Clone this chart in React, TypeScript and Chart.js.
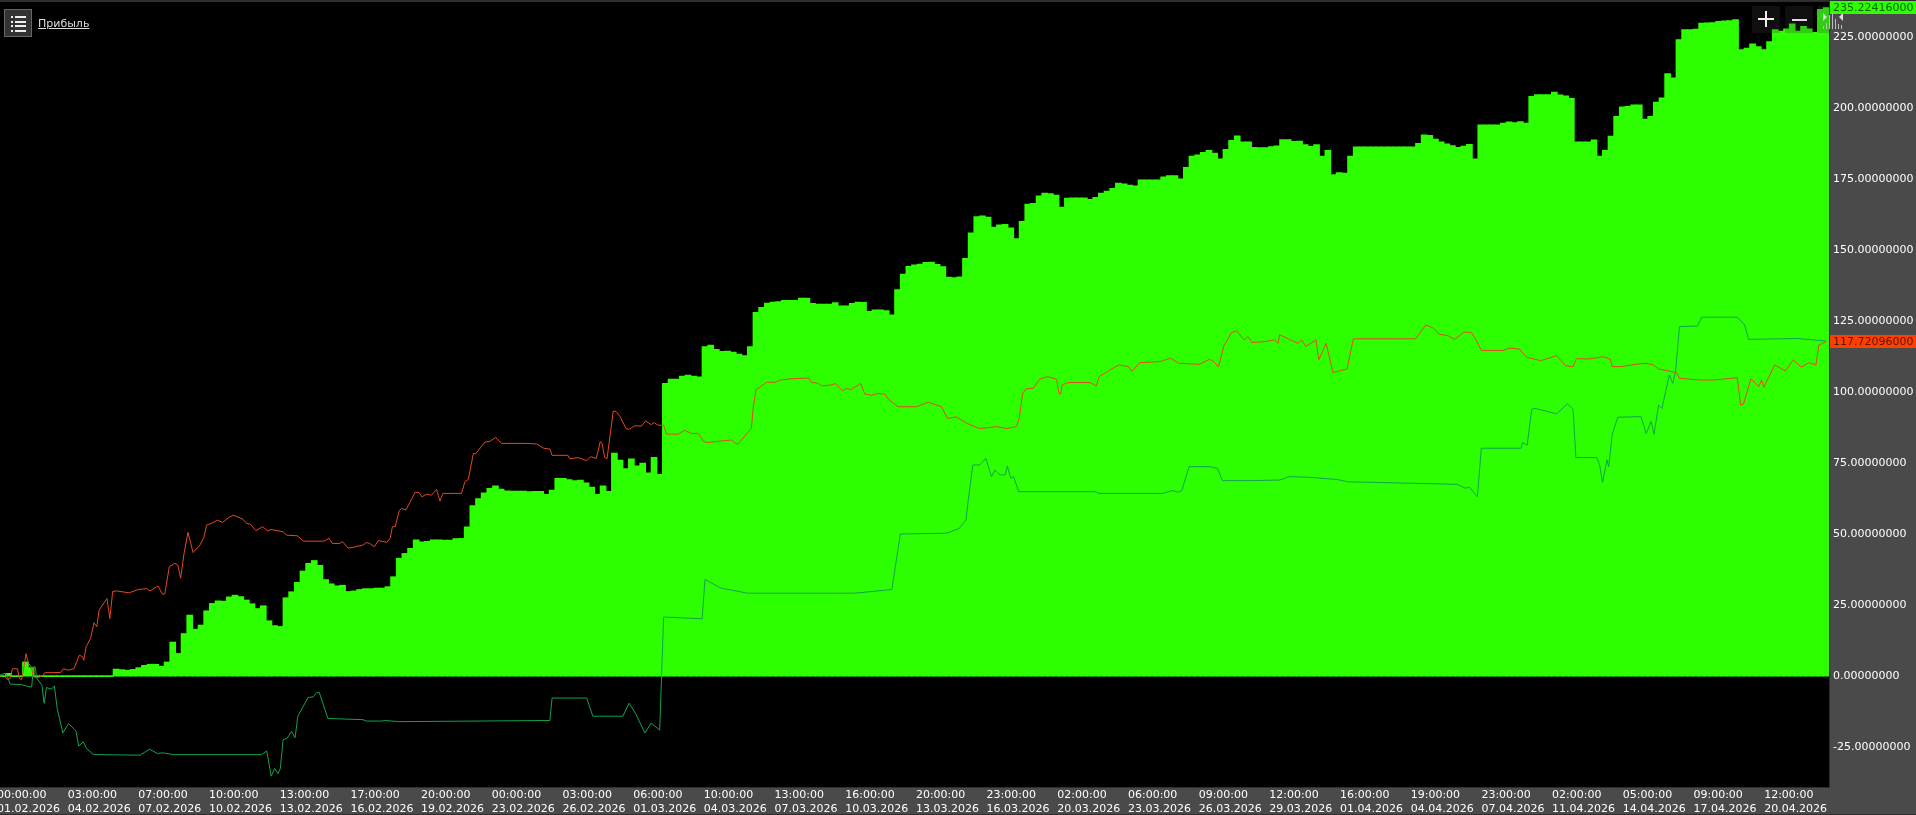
import React, { useEffect, useRef } from "react";
import { Chart, registerables } from "chart.js";

Chart.register(...registerables);

const seriesName = "Прибыль";

const timeLabels = ["00:00:00","03:00:00","07:00:00","10:00:00","13:00:00","17:00:00","20:00:00","00:00:00","03:00:00","06:00:00","10:00:00","13:00:00","16:00:00","20:00:00","23:00:00","02:00:00","06:00:00","09:00:00","12:00:00","16:00:00","19:00:00","23:00:00","02:00:00","05:00:00","09:00:00","12:00:00"];
const dateLabels = ["01.02.2026","04.02.2026","07.02.2026","10.02.2026","13.02.2026","16.02.2026","19.02.2026","23.02.2026","26.02.2026","01.03.2026","04.03.2026","07.03.2026","10.03.2026","13.03.2026","16.03.2026","20.03.2026","23.03.2026","26.03.2026","29.03.2026","01.04.2026","04.04.2026","07.04.2026","11.04.2026","14.04.2026","17.04.2026","20.04.2026"];
const yTicks = [-25, 0, 25, 50, 75, 100, 125, 150, 175, 200, 225];

const profitBars = [
  0,1,0,0,5,3,0,0,0,0,
  0,0,0,0,0,0,0,0,0,0,
  2.5,2.3,2.1,2.4,3,3.8,4.2,4.2,3.5,5,
  12,8,15,21.5,16.5,18,23,25.6,26.5,26.4,
  27.9,28.5,28,26.8,25.5,23.8,24.8,19.5,17.8,17.5,
  27.6,29.7,33,37,39.7,40.7,39,34,32.5,31.8,
  32,29.8,30,30.5,30.8,30.8,31,31,31.5,35,
  41.5,43.2,45,48,47.3,47.4,48,48,47.9,47.9,
  48.4,48.5,52.5,60,62.5,64.5,66.1,67,65.8,65.2,
  65.1,65.1,65.1,64.9,65,65,64,65.5,69.6,69.6,
  69.2,68.8,69,68,66.5,64,67,65,78.5,76,
  73,76.5,74,75,71.5,77,71,103,104.5,104.5,
  105.6,105.9,105.6,105.3,116,116.5,115,114.3,114.4,114,
  113.3,112.8,116,128,129.8,131.3,131.6,131.8,132.2,132.2,
  132.2,133,133,131.2,130.9,130.9,130.9,131.4,130.3,130.3,
  131.2,131.6,131.5,128.4,128.9,128.9,128.6,127.1,136,141.5,
  144.2,144.7,145,145.6,145.7,144.9,144.1,140.4,140.2,140.5,
  147,156,161.7,162,161.5,158,158.8,159,157.7,154,
  160,166.1,166.4,169,170,169.8,169.3,165,168.2,168.3,
  168.3,168.3,167.8,168.5,170,170.7,171.6,173.5,173.2,172.8,
  172.5,174.6,174.6,174.6,174.6,175.7,176.1,176.1,175,179,
  183,183.4,184.3,185,184,182,185.4,188.5,190.1,188,
  188,186.1,186,186,186.3,186.6,188.8,188.8,188.2,188.3,
  187,186.4,187,183,185,176.5,177.2,177,183,186.2,
  186.2,186.2,186.2,186.2,186.2,186.2,186.2,186.2,186.2,186.2,
  187.5,190.5,190.3,189,188,187.3,186.7,186.1,186.5,187.1,
  182,194,194,194,194,194.6,195,194.8,195.1,194.6,
  204,204.6,204.6,204.6,205.5,204.5,204.2,203.3,188,188,
  188,188.7,183,185,190,197,200.3,200.5,201,201,
  196,197,202,203.5,212,210.5,224,227.5,227.5,227.7,
  229.8,229.9,230,230.4,230.6,230.7,231,220.5,221,222.5,
  221.5,220.5,223.3,227.5,227,227.8,229.5,227,228.6,227.8,
  226.5,234.6,235.22416,
];

const redLine = [
  [0,0],[0.7,0.4],[1.3,-1.2],[1.8,-0.8],[2.2,2.6],[3.1,2.6],[3.4,-0.8],[3.8,-1.2],[4.1,1.5],[4.6,7.9],[5,4.5],[5.5,3.5],[5.9,-0.2],[6.5,-0.5],[7.5,0],[7.9,1.2],
  [10.7,1.3],[11.2,2.6],[12.1,2.1],[13.1,2.7],[14,7.4],[14.6,6.8],[14.8,5.6],[15.2,10.3],[16,13.3],[16.6,18.8],[17.1,17.4],[17.5,23.2],[18.7,26.8],[18.9,27.3],[19.4,20.3],[19.9,29.8],
  [20.6,30],[22.8,29.3],[24.4,30.5],[25.9,30.8],[26.5,30],[27.9,31.7],[28.7,28.8],[29.1,28.9],[29.9,38.5],[30.9,39.7],[31.4,39.1],[31.9,34.4],[32.5,43.2],[33.2,50.6],[34.1,43.5],[35.3,46.1],
  [36,48.8],[36.5,53.2],[37.4,53.8],[38.4,54.9],[39.3,54.1],[40.6,56.1],[41.3,56.6],[42.9,55.2],[43.5,53.8],[44.2,53.5],[45.2,51.2],[46.4,52.6],[47.2,51.1],[47.9,51.6],[50,50.8],[50.6,49.6],
  [52.5,49.4],[53.6,47.5],[57.2,47.5],[58.1,48.5],[58.7,46.7],[60,46.7],[60.5,47.3],[61.5,45],[64.1,46.1],[64.7,47],[65.3,46.7],[66.1,45.5],[66.8,47.7],[68.3,47.1],[68.9,48.5],[69.3,52.6],
  [69.8,52.6],[70.5,58.2],[70.9,59],[71.7,58.5],[73.3,64.7],[74,64.6],[74.5,63.1],[75.3,64],[76.2,63.7],[77.1,65.7],[77.7,61.6],[78.2,64.3],[81.5,64.3],[82.1,68.4],[82.7,69.2],[83.6,78.4],
  [84,78.2],[85.6,82.3],[86.6,82.7],[87.5,84],[88.6,81.9],[92.7,81.9],[94.8,81.7],[96,80.2],[97.1,79.9],[97.5,77.7],[100.3,77.7],[100.6,76.5],[102.1,76.9],[103.6,75.8],[104.3,77.2],[105.3,76.6],
  [106,82.5],[106.3,82],[106.8,76.9],[107.2,76.5],[108.3,93.3],[108.8,93.1],[109.5,91.3],[110.6,87],[111.2,86.9],[112.1,88.1],[113.3,88],[114,89.8],[115,88.5],[115.5,89.2],[116.2,88.3],[117.2,88.3],
  [117.7,85.2],[119.7,85.1],[120.9,86.5],[122.1,85.4],[123.3,85.4],[124.3,82.5],[125,82.2],[127.1,82.7],[129.2,83.1],[129.7,82.2],[130.3,81.6],[132.7,87.2],[133,94.2],[133.5,100.7],[135.4,103.4],[136.9,103.4],
  [137.8,104.2],[139.5,104.6],[142.8,104.9],[143.3,103.4],[144.5,103],[145.1,102.1],[146.9,102.5],[147.5,103],[148.8,100.4],[149.5,101.3],[150.2,100.7],[152,103],[152.7,99.3],[153.9,98.8],[155.1,99.5],[156.3,99.2],
  [156.9,97.4],[158.6,94.8],[161.9,94.8],[163.9,96.4],[166.3,94.8],[167.3,90.7],[168.9,91.2],[170.7,89],[173,87.1],[176,87.8],[177.8,87.1],[179.5,87.8],[180,90.7],[180.6,99.5],[181.2,101.1],[182.5,101.3],
  [183.6,104.5],[185,105.4],[186.6,104.5],[187,99.5],[187.3,99.2],[187.6,102.5],[188.6,103.3],[192.5,103.3],[193.6,102.1],[194.1,105.4],[195.6,107.2],[197,108.9],[197.7,109.5],[199.3,108.9],[199.9,107.2],[201.3,110.3],
  [204.9,110.7],[206.7,111.9],[208.2,110.1],[211.8,109.7],[213.6,111.5],[214.3,110.7],[215.2,108.9],[216.1,116],[217.5,120.9],[218.4,121.5],[219.7,118.3],[220.4,119.5],[221.1,117.4],[223.3,117.7],[225.1,118.3],[225.7,117.1],
  [226,120.1],[229.2,117.1],[229.9,118.3],[230.6,116],[232.4,118.3],[232.9,111.3],[234.2,117.1],[235.4,106.8],[237.9,108.1],[239,118.7],[250,118.7],[251.8,123.6],[253.2,122.4],[254.1,120.3],[255.7,119.8],[256.9,118.5],
  [258.5,121],[259.8,121],[260.7,118.3],[261.6,114.6],[265.5,114.6],[266.4,115.4],[268.3,115.1],[269.6,112.2],[272.1,111],[274.9,112.8],[276.5,109.2],[277.8,108.9],[278.4,111.7],[280.6,111.6],[283.1,112.4],[284.4,111.5],
  [284.7,108.9],[286.3,108.9],[288.8,109.7],[290.7,110.1],[292,109.5],[292.9,108.1],[296.1,106.8],[296.6,104.8],[300.2,104.2],[302.7,104.2],[306.8,105],[307.4,95.4],[307.9,95.7],[309.2,104.6],[310.6,101.9],[311.1,104.2],
  [311.5,101.6],[313.4,109.5],[315.3,107.4],[316.7,111.3],[318.1,108.7],[319.4,110.3],[320.7,109.5],[321.2,116.5],[321.9,117.1],[322.5,117.72096],
];

const greenLine = [
  [0,0.3],[0.7,0.9],[1.1,0.9],[1.8,-2.8],[3.6,-2.9],[5.3,-3.8],[5.6,-3.8],[5.9,3.3],[6.2,3.3],[6.5,-0.8],[7.4,-3.2],[7.8,-9.6],[8.2,-4],[9.1,-4.6],[9.6,-3.4],[10.1,-11.4],
  [11.1,-20],[12.1,-16.7],[13.4,-19.2],[13.9,-24.6],[14.7,-23.1],[15.3,-25.5],[16.5,-27.6],[24.7,-27.8],[26.4,-25.7],[27.8,-27.2],[28.8,-27],[30.6,-27.6],[46.2,-27.6],[47.1,-26.3],[47.9,-35.2],[48.5,-32.5],
  [49.1,-34.3],[49.5,-32.5],[50,-22.3],[50.7,-21.9],[51.5,-19.4],[52.1,-21.7],[52.6,-14.1],[54.4,-7.5],[55.3,-7.3],[55.9,-5.8],[56.4,-5.8],[57.9,-14.9],[64.1,-15.3],[64.7,-15.8],[67.4,-15.8],[67.9,-15.6],
  [70.6,-16],[97.1,-15.6],[97.5,-7.7],[103.6,-7.7],[104.7,-14.1],[110,-14.1],[111.1,-9.5],[112.2,-13],[113.9,-20],[115,-16.5],[116.5,-19],[117,10],[117.2,20.8],[124,20.2],[124.5,34],[127.3,31],
  [132,29.2],[151,29.2],[157.5,30.5],[159,50],[167.2,50.3],[169.4,52],[170.6,55],[171,62],[171.8,74.3],[173,74.3],[174.1,76.6],[175.1,70.2],[175.7,72.5],[176.6,70.8],[177.5,70.8],[177.9,73.9],
  [178.5,69.6],[179,70.2],[179.9,64.9],[193.4,64.9],[194.1,64.3],[205.3,64.3],[207.1,65.3],[208,64.7],[208.7,65.3],[210,73.7],[213.6,73.7],[215,73.1],[215.9,68.8],[221.1,68.8],[226,69],[227.6,70.2],
  [231.1,70],[236.1,69.2],[238,68.4],[257.3,67.5],[258.8,66.1],[259.5,66.5],[260.9,63.1],[261.6,80.2],[268.6,80.2],[268.9,82.2],[269.7,81.3],[270.5,93.9],[271.1,94.2],[274.9,92.3],[276.8,95.8],[277.8,93.9],
  [278.3,76.9],[282,76.9],[282.5,74.3],[283,68.2],[283.8,76.1],[284.1,73.7],[284.7,84.9],[285.7,91.1],[289.8,91.3],[290.7,85.4],[291.6,89.6],[292.1,85.1],[292.9,95.4],[293.5,94.2],[294.8,106],[295.4,103],
  [295.9,107.2],[296.6,123],[299.8,123.2],[300.5,126.3],[306.8,126.3],[308.1,123.6],[308.8,118.5],[317.5,118.8],[322.5,117.9],
];

const axisGrey = "#4a4a4a";
const barGreen = "#2dff00";
const redColor = "#e2491f";
const lineGreen = "#12a34e";
const labelColor = "#ffffff";
const firstTick = -0.53;
const tickStep = 12.483;

const frame = {
  id: "frame",
  beforeDraw(chart: any) {
    const { ctx, chartArea: a, width, height } = chart;
    ctx.save();
    ctx.fillStyle = axisGrey;
    ctx.fillRect(0, 0, width, height);
    ctx.fillStyle = "#000";
    ctx.fillRect(a.left, a.top, a.right - a.left, a.bottom - a.top);
    ctx.fillStyle = "#2e2e2e";
    ctx.fillRect(0, 0, width, a.top);
    ctx.fillRect(a.right, a.top, 1, a.bottom - a.top);
    ctx.fillRect(0, a.bottom, a.right + 1, 1);
    ctx.fillRect(0, height - 1, width, 1);
    ctx.restore();
  },
  afterDraw(chart: any) {
    const { ctx, chartArea: a, scales, width } = chart;
    const tags = [
      { v: profitBars[profitBars.length - 1], bg: barGreen, fg: "#0d5e00" },
      { v: redLine[redLine.length - 1][1], bg: "#ff3f00", fg: "#571500" },
    ];
    ctx.save();
    ctx.font = "11px 'DejaVu Sans'";
    ctx.textBaseline = "middle";
    ctx.textAlign = "left";
    for (const t of tags) {
      const y = scales.y.getPixelForValue(t.v);
      ctx.fillStyle = t.bg;
      ctx.fillRect(a.right + 1, Math.round(y) - 7, width - a.right - 1, 13);
      ctx.fillStyle = t.fg;
      ctx.fillText(t.v.toFixed(8), a.right + 4, Math.round(y));
    }
    ctx.restore();
  },
};

const box = (left: number, w: number): React.CSSProperties => ({
  position: "absolute",
  left,
  top: 6,
  width: w,
  height: 27,
  background: "rgba(60,60,60,0.25)",
});

const noPadding = (s: any) => {
  s.paddingLeft = 0;
  s.paddingRight = 0;
  s.paddingTop = 0;
  s.paddingBottom = 0;
};

export default function App() {
  const ref = useRef<HTMLCanvasElement>(null);
  useEffect(() => {
    const chart = new Chart(ref.current as HTMLCanvasElement, {
      type: "bar",
      plugins: [frame],
      data: {
        datasets: [
          {
            type: "line",
            label: "red",
            data: redLine.map(([x, y]) => ({ x, y })),
            borderColor: redColor,
            borderWidth: 1,
            pointRadius: 0,
            tension: 0,
            order: 1,
          },
          {
            type: "line",
            label: "green",
            data: greenLine.map(([x, y]) => ({ x, y })),
            borderColor: lineGreen,
            borderWidth: 1,
            pointRadius: 0,
            tension: 0,
            order: 2,
          },
          {
            type: "bar",
            label: seriesName,
            data: profitBars.map((y, i) => ({ x: i + 0.5, y })),
            backgroundColor: barGreen,
            borderWidth: 0,
            barThickness: 6,
            minBarLength: 1,
            order: 3,
          },
        ],
      } as any,
      options: {
        responsive: false,
        animation: false,
        parsing: { xAxisKey: "x", yAxisKey: "y" },
        layout: { padding: { top: 2, left: 0, right: 0, bottom: 0 } },
        plugins: { legend: { display: false }, tooltip: { enabled: false } },
        scales: {
          x: {
            type: "linear",
            offset: false,
            min: 0,
            max: profitBars.length,
            grid: { display: false, drawTicks: false, offset: false },
            border: { display: false },
            afterBuildTicks: (s: any) => {
              s.ticks = timeLabels.map((_, i) => ({ value: firstTick + i * tickStep }));
            },
            afterFit: (s: any) => {
              s.height = 28;
              noPadding(s);
            },
            ticks: {
              autoSkip: false,
              maxRotation: 0,
              minRotation: 0,
              align: "start",
              padding: 1,
              color: labelColor,
              font: { family: "'DejaVu Sans'", size: 11, lineHeight: 1.27 },
              callback: (_: any, i: number) => [timeLabels[i], dateLabels[i]],
            },
          },
          y: {
            position: "right",
            min: -39,
            max: 237.2,
            grid: { display: false, drawTicks: false },
            border: { display: false },
            afterBuildTicks: (s: any) => {
              s.ticks = yTicks.map((value) => ({ value }));
            },
            afterFit: (s: any) => {
              s.width = 87;
              noPadding(s);
            },
            ticks: {
              autoSkip: false,
              padding: 4,
              color: labelColor,
              font: { family: "'DejaVu Sans'", size: 11 },
              callback: (v: any) => Number(v).toFixed(8),
            },
          },
        },
      } as any,
    });
    return () => chart.destroy();
  }, []);

  return (
    <div style={{ position: "fixed", left: 0, top: 0, width: 1916, height: 815, overflow: "hidden", background: "#000" }}>
      <canvas ref={ref} width={1916} height={815} style={{ display: "block", width: 1916, height: 815 }} />
      <div style={{ position: "absolute", left: 4, top: 9, width: 26, height: 26, background: "#333", border: "1px solid #666" }}>
        <svg width="26" height="26" style={{ display: "block" }}>
          {[6, 11, 15, 20].map((y) => (
            <g key={y} fill="#eee">
              <rect x="6" y={y} width="2" height="2" />
              <rect x="10" y={y} width="11" height="2" />
            </g>
          ))}
        </svg>
      </div>
      <div style={{ position: "absolute", left: 38, top: 17, color: "#ddd", fontFamily: "'DejaVu Sans'", fontSize: 11, lineHeight: "14px", textDecoration: "underline" }}>
        {seriesName}
      </div>
      <div style={box(1752, 28)}>
        <svg width="28" height="27" style={{ display: "block" }}>
          <rect x="6" y="12" width="16" height="2" fill="#eee" />
          <rect x="13" y="5" width="2" height="16" fill="#eee" />
        </svg>
      </div>
      <div style={box(1785, 28)}>
        <svg width="28" height="27" style={{ display: "block" }}>
          <rect x="7" y="13" width="15" height="2" fill="#ddd" />
        </svg>
      </div>
      <div style={box(1818, 11)} />
      <svg width="22" height="20" style={{ position: "absolute", left: 1822, top: 11 }}>
        <path d="M1 2 L5 6 L1 10 Z M21 2 L17 6 L21 10 Z" fill="#ddd" />
        <g fill="#bbb">
          <rect x="1" y="15" width="1" height="3" />
          <rect x="4" y="12" width="1" height="6" />
          <rect x="7" y="4" width="1" height="14" />
          <rect x="10" y="2" width="1" height="16" />
          <rect x="13" y="8" width="1" height="10" />
          <rect x="16" y="13" width="1" height="5" />
          <rect x="19" y="14" width="1" height="4" />
        </g>
      </svg>
    </div>
  );
}
